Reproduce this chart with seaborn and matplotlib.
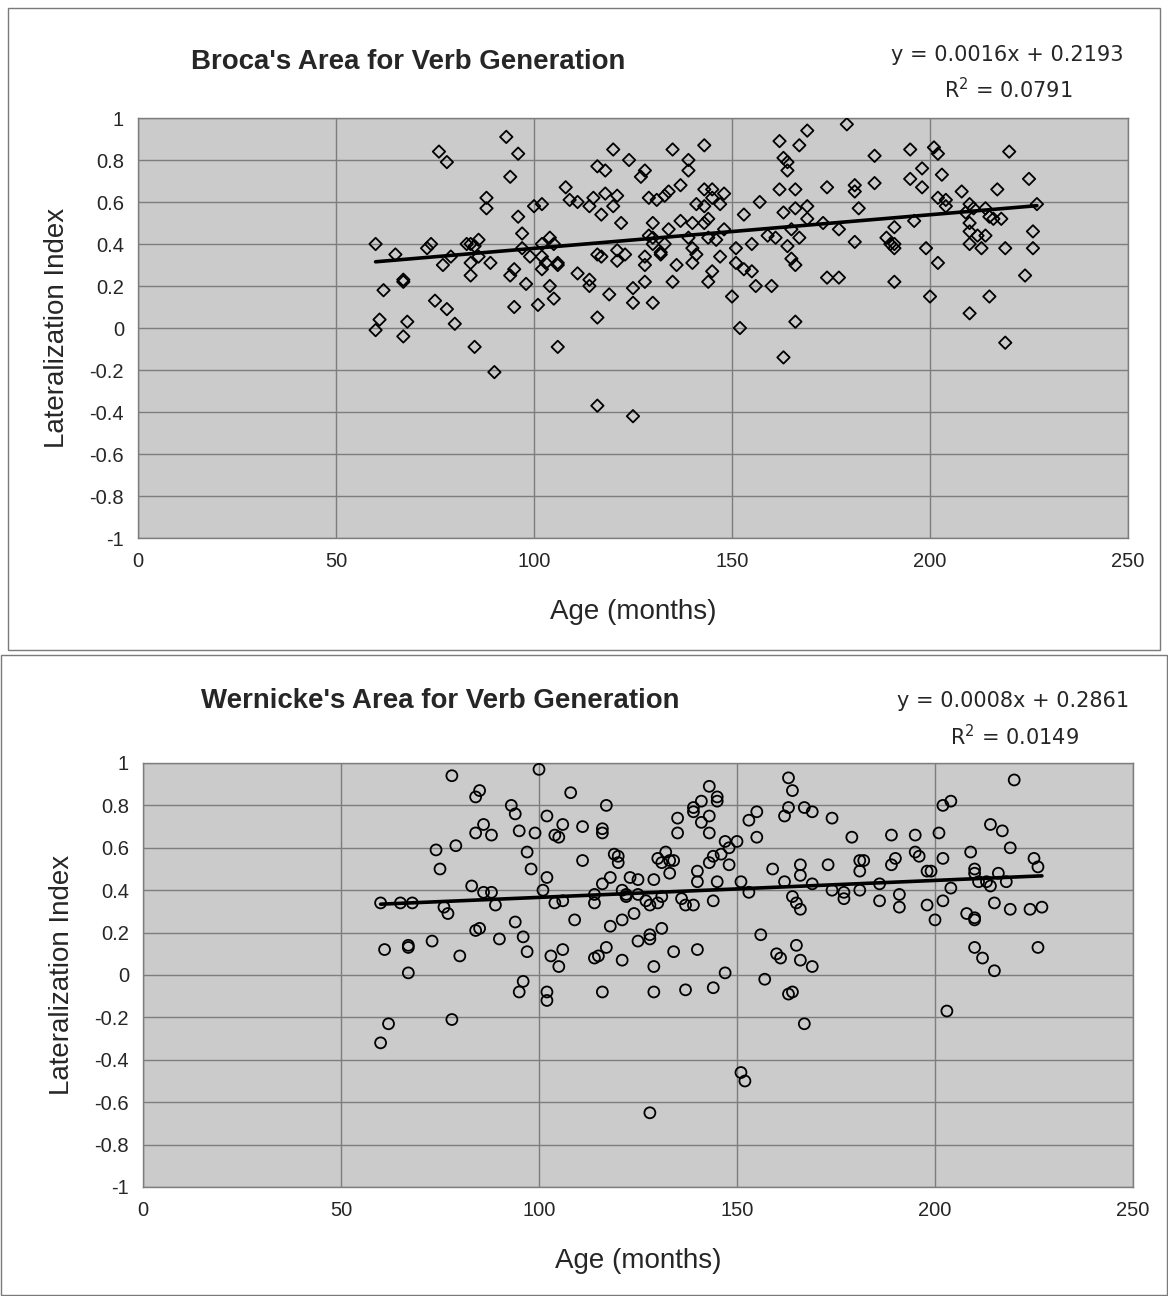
import numpy as np
import pandas as pd
import seaborn as sns
import matplotlib.pyplot as plt
from matplotlib.patches import Rectangle

# Broca's area: age (months) vs lateralization index
broca_age = [60, 60, 61, 62, 65, 67, 67, 67, 68, 73, 74, 75, 76, 78, 77, 79, 78, 80,
             83, 84, 85, 86, 84, 84, 86, 85, 88, 88, 89, 90, 93, 96, 94, 96, 97, 97,
             95, 94, 95, 98, 99, 100, 102, 101, 102, 102, 102, 103, 104, 105, 104, 105,
             106, 106, 106, 108, 109, 111, 111, 114, 114, 116, 116, 115, 118, 121, 114,
             117, 120, 122, 116, 117, 120, 116, 118, 119, 121, 121, 123, 124, 127, 128,
             125, 125, 130, 128, 128, 128, 125, 129, 131, 133, 134, 130, 129, 130, 130,
             132, 132, 133, 134, 135, 136, 135, 137, 137, 139, 139, 139, 140, 141, 140,
             140, 141, 143, 143, 145, 148, 143, 144, 143, 145, 147, 144, 146, 148, 147,
             145, 144, 151, 151, 150, 152, 153, 153, 155, 155, 156, 157, 159, 161, 160,
             162, 163, 164, 164, 162, 163, 166, 166, 167, 169, 169, 169, 165, 167, 164,
             165, 166, 163, 166, 173, 174, 174, 177, 177, 179, 181, 181, 182, 181, 186,
             186, 189, 190, 191, 191, 191, 191, 195, 195, 198, 198, 196, 199, 200, 201,
             202, 203, 202, 204, 204, 202, 208, 210, 209, 211, 210, 210, 212, 214, 210,
             213, 210, 214, 215, 216, 218, 217, 215, 219, 220, 219, 225, 227, 226, 226, 224]
broca_li = [0.40, -0.01, 0.04, 0.18, 0.35, 0.23, 0.22, -0.04, 0.03, 0.38, 0.40, 0.13, 0.84,
            0.79, 0.30, 0.34, 0.09, 0.02, 0.40, 0.40, 0.39, 0.42, 0.31, 0.25, 0.34, -0.09,
            0.62, 0.57, 0.31, -0.21, 0.91, 0.83, 0.72, 0.53, 0.45, 0.38, 0.28, 0.25, 0.10,
            0.21, 0.34, 0.58, 0.59, 0.11, 0.40, 0.34, 0.28, 0.31, 0.43, 0.40, 0.20, 0.14,
            0.31, 0.30, -0.09, 0.67, 0.61, 0.60, 0.26, 0.23, 0.20, 0.05, -0.37, 0.62, 0.64,
            0.63, 0.58, 0.54, 0.58, 0.50, 0.35, 0.34, 0.85, 0.77, 0.75, 0.16, 0.37, 0.32,
            0.35, 0.80, 0.72, 0.75, 0.19, 0.12, 0.12, 0.34, 0.30, 0.22, -0.42, 0.62, 0.61,
            0.63, 0.65, 0.50, 0.44, 0.43, 0.40, 0.36, 0.35, 0.40, 0.47, 0.85, 0.30, 0.22,
            0.68, 0.51, 0.80, 0.75, 0.43, 0.38, 0.35, 0.31, 0.50, 0.59, 0.58, 0.66, 0.66,
            0.64, 0.87, 0.52, 0.50, 0.62, 0.59, 0.43, 0.42, 0.47, 0.34, 0.27, 0.22, 0.38,
            0.31, 0.15, 0.00, 0.54, 0.28, 0.27, 0.40, 0.20, 0.60, 0.44, 0.43, 0.20, 0.89,
            0.81, 0.79, 0.75, 0.66, 0.55, 0.66, 0.57, 0.87, 0.94, 0.58, 0.52, 0.47, 0.43,
            0.39, 0.33, 0.30, -0.14, 0.03, 0.50, 0.67, 0.24, 0.24, 0.47, 0.97, 0.68, 0.65,
            0.57, 0.41, 0.82, 0.69, 0.43, 0.40, 0.40, 0.38, 0.48, 0.22, 0.85, 0.71, 0.76,
            0.67, 0.51, 0.38, 0.15, 0.86, 0.83, 0.73, 0.62, 0.61, 0.58, 0.31, 0.65, 0.59,
            0.55, 0.57, 0.50, 0.46, 0.44, 0.44, 0.40, 0.38, 0.07, 0.57, 0.53, 0.52, 0.52,
            0.66, 0.15, 0.38, 0.84, -0.07, 0.71, 0.59, 0.46, 0.38, 0.25]

# Wernicke's area
wern_age = [60, 65, 68, 61, 67, 67, 67, 62, 60, 73, 74, 75, 76, 77, 78, 79, 80, 78, 83, 84,
            85, 84, 86, 88, 86, 88, 89, 84, 85, 90, 93, 94, 95, 97, 98, 94, 96, 97, 96, 95,
            100, 99, 102, 101, 102, 104, 105, 106, 104, 106, 103, 106, 105, 102, 102, 108,
            109, 111, 111, 114, 114, 114, 115, 116, 116, 117, 117, 116, 116, 118, 119, 120,
            120, 121, 122, 118, 121, 121, 124, 123, 125, 125, 128, 128, 129, 122, 125, 127,
            128, 130, 131, 131, 129, 129, 128, 130, 131, 132, 133, 134, 133, 134, 135, 135,
            136, 137, 139, 137, 139, 139, 141, 143, 141, 143, 143, 145, 145, 140, 140, 140,
            143, 144, 146, 147, 148, 150, 148, 145, 144, 147, 144, 151, 153, 153, 155, 155,
            151, 152, 156, 157, 159, 160, 161, 162, 163, 164, 163, 162, 167, 169, 166, 166,
            164, 165, 166, 165, 166, 169, 163, 164, 167, 169, 174, 173, 174, 177, 177, 179,
            181, 182, 181, 181, 186, 186, 189, 189, 190, 191, 191, 195, 195, 196, 198, 199,
            198, 200, 201, 202, 204, 202, 204, 202, 203, 208, 210, 210, 209, 210, 210, 211,
            210, 212, 215, 214, 217, 219, 220, 213, 214, 216, 218, 215, 219, 224, 227, 225,
            226, 226]
wern_li = [0.34, 0.34, 0.34, 0.12, 0.14, 0.13, 0.01, -0.23, -0.32, 0.16, 0.59, 0.50, 0.32,
           0.29, 0.94, 0.61, 0.09, -0.21, 0.42, 0.84, 0.87, 0.67, 0.71, 0.66, 0.39, 0.39,
           0.33, 0.21, 0.22, 0.17, 0.80, 0.76, 0.68, 0.58, 0.50, 0.25, 0.18, 0.11, -0.03,
           -0.08, 0.97, 0.67, 0.75, 0.40, 0.46, 0.66, 0.65, 0.71, 0.34, 0.35, 0.09, 0.12,
           0.04, -0.08, -0.12, 0.86, 0.26, 0.70, 0.54, 0.38, 0.34, 0.08, 0.09, 0.69, 0.67,
           0.80, 0.13, -0.08, 0.43, 0.46, 0.57, 0.56, 0.53, 0.40, 0.37, 0.23, 0.26, 0.07,
           0.29, 0.46, 0.45, 0.16, 0.19, 0.17, 0.45, 0.38, 0.38, 0.35, 0.33, 0.34, 0.37,
           0.22, 0.04, -0.08, -0.65, 0.55, 0.53, 0.58, 0.54, 0.54, 0.48, 0.11, 0.74, 0.67,
           0.36, 0.33, 0.33, -0.07, 0.79, 0.77, 0.82, 0.89, 0.72, 0.75, 0.67, 0.84, 0.82,
           0.49, 0.44, 0.12, 0.53, 0.56, 0.57, 0.63, 0.60, 0.63, 0.52, 0.44, 0.35, 0.01,
           -0.06, 0.44, 0.39, 0.73, 0.77, 0.65, -0.46, -0.50, 0.19, -0.02, 0.50, 0.10, 0.08,
           0.44, 0.93, 0.87, 0.79, 0.75, 0.79, 0.77, 0.52, 0.47, 0.37, 0.34, 0.31, 0.14,
           0.07, 0.04, -0.09, -0.08, -0.23, 0.43, 0.74, 0.52, 0.40, 0.39, 0.36, 0.65, 0.54,
           0.54, 0.49, 0.40, 0.43, 0.35, 0.66, 0.52, 0.55, 0.38, 0.32, 0.66, 0.58, 0.56,
           0.49, 0.49, 0.33, 0.26, 0.67, 0.80, 0.82, 0.55, 0.41, 0.35, -0.17, 0.29, 0.27,
           0.26, 0.58, 0.50, 0.48, 0.44, 0.13, 0.08, 0.02, 0.71, 0.68, 0.60, 0.92, 0.44,
           0.42, 0.48, 0.44, 0.34, 0.31, 0.31, 0.32, 0.55, 0.51, 0.13]

# trendline coefficients as printed on the chart
broca_fit = (0.0016, 0.2193, 0.0791)
wern_fit = (0.0008, 0.2861, 0.0149)

x_ticks = [0, 50, 100, 150, 200, 250]
y_ticks = [-1, -0.8, -0.6, -0.4, -0.2, 0, 0.2, 0.4, 0.6, 0.8, 1]

sns.set_style("white")
plt.rcParams['font.family'] = ['Liberation Sans', 'DejaVu Sans']

fig = plt.figure(figsize=(11.68, 12.96), dpi=100)

# panel frames
fig.patches.append(Rectangle((8 / 1168, 1 - 650 / 1296), 1152 / 1168, 642 / 1296,
                             transform=fig.transFigure, fill=False, ec='#7a7a7a', lw=1))
fig.patches.append(Rectangle((1 / 1168, 1 / 1296), 1166 / 1168, 640 / 1296,
                             transform=fig.transFigure, fill=False, ec='#7a7a7a', lw=1))

panels = [
    dict(rect=[138 / 1168, 1 - 538 / 1296, 990 / 1168, 420 / 1296], age=broca_age, li=broca_li,
         fit=broca_fit, marker='D', s=40, title="Broca's Area for Verb Generation",
         tx=408, ty=62, ex=1007, ey=55, rx=1008, ry=90),
    dict(rect=[143 / 1168, 1 - 1187 / 1296, 990 / 1168, 424 / 1296], age=wern_age, li=wern_li,
         fit=wern_fit, marker='o', s=62, title="Wernicke's Area for Verb Generation",
         tx=440, ty=701, ex=1013, ey=701, rx=1015, ry=737),
]

for p in panels:
    ax = fig.add_axes(p['rect'])
    ax.set_facecolor('#cbcbcb')
    df = pd.DataFrame({'age': p['age'], 'li': p['li']})
    sns.scatterplot(data=df, x='age', y='li', marker=p['marker'], s=p['s'],
                    facecolors='none', edgecolor='black', linewidth=1.3, ax=ax, zorder=3)
    slope, icpt, r2 = p['fit']
    xs = np.array([df['age'].min(), df['age'].max()])
    sns.lineplot(x=xs, y=slope * xs + icpt, color='black', linewidth=2.6, ax=ax, zorder=4)

    ax.set_xlim(0, 250)
    ax.set_ylim(-1, 1)
    ax.set_xticks(x_ticks)
    ax.set_yticks(y_ticks)
    ax.set_yticklabels([f"{v:g}" for v in y_ticks])
    ax.grid(True, color='#7d7d7d', linewidth=1)
    ax.set_axisbelow(True)
    for sp in ax.spines.values():
        sp.set_color('#7d7d7d')
        sp.set_linewidth(1)
    ax.tick_params(length=0, labelsize=14.5, pad=10)
    ax.set_xlabel('Age (months)', fontsize=20, labelpad=20)
    ax.set_ylabel('Lateralization Index', fontsize=20, labelpad=14)

    fig.text(p['tx'] / 1168, 1 - p['ty'] / 1296, p['title'], fontsize=19.9, fontweight='bold',
             ha='center', va='center')
    fig.text(p['ex'] / 1168, 1 - p['ey'] / 1296, f"y = {slope:.4f}x + {icpt:.4f}",
             fontsize=15, family='DejaVu Sans', ha='center', va='center')
    fig.text(p['rx'] / 1168, 1 - p['ry'] / 1296, f"R$^2$ = {r2:.4f}",
             fontsize=15, family='DejaVu Sans', ha='center', va='center')

fig.savefig('out.png', dpi=100, facecolor='white')
